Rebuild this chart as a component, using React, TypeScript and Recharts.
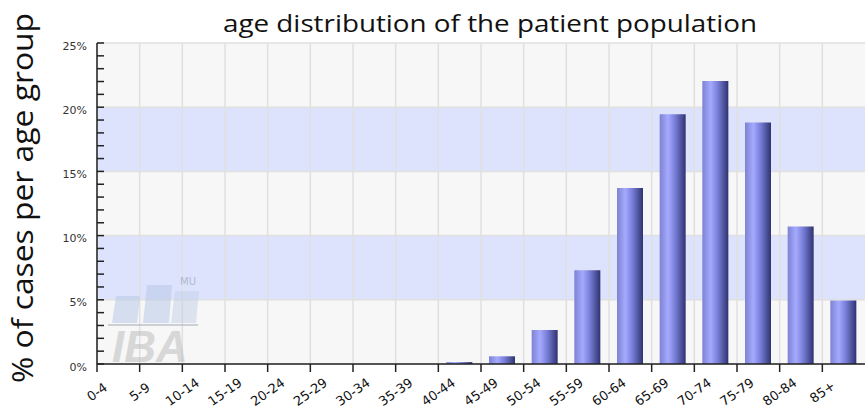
import { BarChart, Bar, XAxis, YAxis, CartesianGrid } from 'recharts';

// age groups and share of cases (%) per group
const ageGroups = [
    '0-4', '5-9', '10-14', '15-19', '20-24', '25-29', '30-34', '35-39', '40-44',
    '45-49', '50-54', '55-59', '60-64', '65-69', '70-74', '75-79', '80-84', '85+',
];
const caseShare = [
    0, 0, 0, 0, 0, 0, 0, 0, 0.15,
    0.6, 2.65, 7.3, 13.7, 19.45, 22.05, 18.8, 10.7, 4.95,
];
const percentTicks = Array.from({ length: 26 }, (_, i) => i);
const bandLines = [0, 5, 10, 15, 20, 25];

const data = ageGroups.map((group, i) => ({ group, share: caseShare[i] }));

const W = 865;
const H = 408;

// x tick: label and tick mark sit on the left edge of each category
const AgeTick = (props: any) => {
    const { x, y, payload } = props;
    const left = x - (payload.offset ?? 0);
    const ty = y + 28;
    return (
        <g>
            <line x1={left} y1={y} x2={left} y2={y + 8} stroke="#222" strokeWidth={1.5} />
            <text
                x={left}
                y={ty}
                textAnchor="middle"
                dominantBaseline="central"
                fontSize={13}
                fontFamily="DejaVu Sans"
                fill="#111"
                transform={`rotate(-35, ${left}, ${ty})`}
            >
                {payload.value}
            </text>
        </g>
    );
};

// y tick: short inward marks every 1%, labels every 5%
const PercentTick = (props: any) => {
    const { x, y, payload } = props;
    return (
        <g>
            <line x1={x} y1={y} x2={x + 7} y2={y} stroke="#222" strokeWidth={1.5} />
            {payload.value % 5 === 0 && (
                <text
                    x={x - 10}
                    y={y + 3}
                    textAnchor="end"
                    dominantBaseline="central"
                    fontSize={11}
                    fontFamily="DejaVu Sans"
                    fill="#333"
                >
                    {payload.value}%
                </text>
            )}
        </g>
    );
};

export default function App() {
    return (
        <div style={{ position: 'absolute', left: 0, top: 0, width: W, height: H, overflow: 'hidden', background: '#fff' }}>
            <BarChart
                width={W}
                height={H}
                data={data}
                margin={{ top: 43, right: 0, bottom: 0, left: 0 }}
                barCategoryGap={0}
            >
                <defs>
                    <linearGradient id="barShade" x1="0" y1="0" x2="1" y2="0">
                        <stop offset="0%" stopColor="#7d82d2" />
                        <stop offset="32%" stopColor="#a5aaff" />
                        <stop offset="60%" stopColor="#777dd6" />
                        <stop offset="100%" stopColor="#2f3270" />
                    </linearGradient>
                </defs>
                <CartesianGrid
                    stroke="#e0e0e0"
                    strokeWidth={1.5}
                    horizontalValues={bandLines}
                    horizontalFill={['#f7f7f7', '#dde3fc']}
                    verticalCoordinatesGenerator={({ offset }: any) =>
                        ageGroups.map((_, i) => offset.left + (i * offset.width) / ageGroups.length)
                    }
                />
                <XAxis
                    dataKey="group"
                    height={44}
                    interval={0}
                    tickSize={0}
                    tickMargin={0}
                    tickLine={false}
                    tick={<AgeTick />}
                    axisLine={{ stroke: '#222', strokeWidth: 1.5 }}
                />
                <YAxis
                    width={97}
                    type="number"
                    domain={[0, 25]}
                    ticks={percentTicks}
                    interval={0}
                    tickSize={0}
                    tickMargin={0}
                    tickLine={false}
                    tick={<PercentTick />}
                    axisLine={{ stroke: '#222', strokeWidth: 1.5 }}
                />
                <Bar dataKey="share" barSize={26} fill="url(#barShade)" isAnimationActive={false} />
            </BarChart>
            <svg
                width={W}
                height={H}
                style={{ position: 'absolute', left: 0, top: 0, pointerEvents: 'none' }}
            >
                {/* faint IBA / MU watermark */}
                <g opacity={0.55}>
                    <polygon points="116,296 140,296 137,323 112,323" fill="#b9cbe8" />
                    <polygon points="147,285 172,285 169,323 143,323" fill="#b9cbe8" />
                    <polygon points="175,291 199,291 196,323 171,323" fill="#c6d3ea" />
                    <line x1={108} y1={325} x2={198} y2={325} stroke="#a9b2bc" strokeWidth={2} />
                    <text x={180} y={285} fontSize={10} fontFamily="DejaVu Sans" fill="#8a96ac">MU</text>
                    <text
                        x={112}
                        y={362}
                        fontSize={44}
                        fontWeight="bold"
                        fontStyle="italic"
                        fontFamily="Liberation Sans"
                        fill="#bdbdbd"
                    >
                        IBA
                    </text>
                </g>
                <text
                    x={490}
                    y={32}
                    textAnchor="middle"
                    fontSize={23}
                    fontFamily="Open Sans"
                    fill="#111"
                    textLength={534}
                    lengthAdjust="spacingAndGlyphs"
                >
                    age distribution of the patient population
                </text>
                <text
                    transform="rotate(-90)"
                    x={-198}
                    y={33}
                    textAnchor="middle"
                    fontSize={29}
                    fontFamily="Open Sans"
                    fill="#111"
                    textLength={370}
                    lengthAdjust="spacingAndGlyphs"
                >
                    % of cases per age group
                </text>
            </svg>
        </div>
    );
}
